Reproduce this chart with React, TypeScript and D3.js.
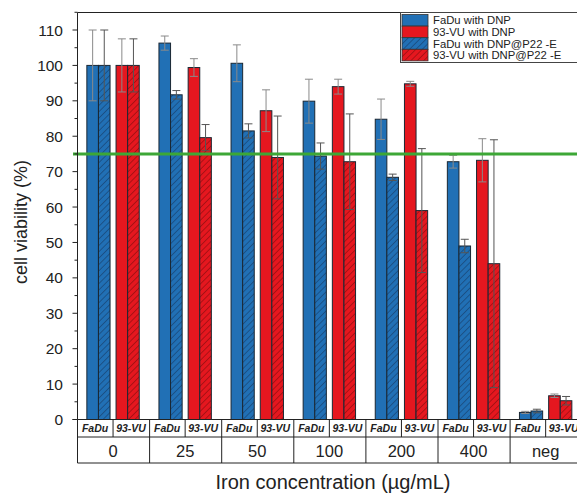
import React from "react";
import * as d3 from "d3";

const groups = ["0", "25", "50", "100", "200", "400", "neg"];
const cells = ["FaDu", "93-VU"];
const seriesNames = ["FaDu with DNP", "FaDu with DNP@P22 -E", "93-VU with DNP", "93-VU with DNP@P22 -E"];
const legendOrder = ["FaDu with DNP", "93-VU with DNP", "FaDu with DNP@P22 -E", "93-VU with DNP@P22 -E"];

const faduDnp = [100, 106.3, 100.6, 89.9, 84.8, 72.8, 2.0];
const faduDnpErr = [10, 2, 5.2, 6.2, 5.7, 1.8, 0.3];
const faduP22 = [100, 91.7, 81.5, 74.4, 68.4, 49.0, 2.4];
const faduP22Err = [10, 1.2, 2.0, 3.7, 0.9, 1.9, 0.5];
const vuDnp = [100, 99.4, 87.2, 94.0, 94.8, 73.2, 6.7];
const vuDnpErr = [7.5, 2.5, 5.9, 2.1, 0.7, 6.1, 0.5];
const vuP22 = [100, 79.6, 74.0, 72.8, 59.0, 44.0, 5.3];
const vuP22Err = [7.5, 3.7, 11.7, 13.5, 17.5, 35, 1.2];

const yTicks = [0, 10, 20, 30, 40, 50, 60, 70, 80, 90, 100, 110];
const yMinor = [5, 15, 25, 35, 45, 55, 65, 75, 85, 95, 105, 115];
const threshold = 75;

const BLUE = "#2170b5";
const RED = "#e5171f";
const FONT = "Liberation Sans, Arial, sans-serif";

export default function App() {
  const W = 577, H = 496;
  const y = d3.scaleLinear().domain([0, 110]).range([419.5, 30]);
  const x = d3.scaleBand<string>().domain(groups).range([77, 77 + 7 * 72.1]);
  const sub = d3.scaleBand<string>().domain(seriesNames).range([0, 46.4]);
  const gw = x.bandwidth();
  const bw = sub.bandwidth();

  const series = [
    { name: seriesNames[0], vals: faduDnp, errs: faduDnpErr, fill: BLUE, errColor: "#8a8a8a" },
    { name: seriesNames[1], vals: faduP22, errs: faduP22Err, fill: "url(#hb)", errColor: "#555" },
    { name: seriesNames[2], vals: vuDnp, errs: vuDnpErr, fill: RED, errColor: "#8a8a8a" },
    { name: seriesNames[3], vals: vuP22, errs: vuP22Err, fill: "url(#hr)", errColor: "#555" },
  ];
  const legendFill: Record<string, string> = {
    [seriesNames[0]]: BLUE,
    [seriesNames[1]]: "url(#hb)",
    [seriesNames[2]]: RED,
    [seriesNames[3]]: "url(#hr)",
  };

  const barX = (g: string, si: number) => (x(g) as number) + 9.85 + (sub(seriesNames[si]) as number) + (si >= 2 ? 6 : 0);

  const row1Top = 419.5, row1Bot = 437, row2Bot = 463;
  const x0 = 77.5;

  return (
    <svg width={W} height={H} style={{ position: "absolute", left: 0, top: 0, background: "#fff" }}>
      <defs>
        <pattern id="hb" patternUnits="userSpaceOnUse" width={4.5} height={4.5} patternTransform="rotate(45)">
          <rect width={4.5} height={4.5} fill={BLUE} />
          <line x1={0} y1={0} x2={0} y2={4.5} stroke="#163a63" strokeWidth={1.1} />
        </pattern>
        <pattern id="hr" patternUnits="userSpaceOnUse" width={4.5} height={4.5} patternTransform="rotate(45)">
          <rect width={4.5} height={4.5} fill={RED} />
          <line x1={0} y1={0} x2={0} y2={4.5} stroke="#7a0c0c" strokeWidth={1.1} />
        </pattern>
      </defs>

      {/* bars */}
      {series.map((s, si) =>
        groups.map((g, gi) => (
          <rect key={`b${si}-${gi}`} x={barX(g, si)} y={y(s.vals[gi])} width={bw} height={y(0) - y(s.vals[gi])}
            fill={s.fill} stroke="#1a2733" strokeWidth={1} />
        ))
      )}
      {/* error bars */}
      {series.map((s, si) =>
        groups.map((g, gi) => {
          const cx = barX(g, si) + bw / 2;
          const hi = y(s.vals[gi] + s.errs[gi]);
          const lo = y(s.vals[gi] - s.errs[gi]);
          return (
            <g key={`e${si}-${gi}`} stroke={s.errColor} strokeWidth={1}>
              <line x1={cx} x2={cx} y1={hi} y2={lo} />
              <line x1={cx - 4} x2={cx + 4} y1={hi} y2={hi} />
              <line x1={cx - 4} x2={cx + 4} y1={lo} y2={lo} />
            </g>
          );
        })
      )}

      {/* threshold line */}
      <line x1={73} x2={W} y1={y(threshold)} y2={y(threshold)} stroke="#3da736" strokeWidth={3} />

      {/* frame */}
      <line x1={x0} x2={x0} y1={12.5} y2={row1Top} stroke="#222" strokeWidth={1} />
      <line x1={x0} x2={W} y1={12.5} y2={12.5} stroke="#222" strokeWidth={1} />

      {/* y ticks */}
      {yTicks.map((t) => (
        <g key={`t${t}`}>
          <line x1={x0 - 5} x2={x0} y1={y(t)} y2={y(t)} stroke="#222" />
          <text x={63} y={y(t) + 5.5} textAnchor="end" fontSize={15.5} fontFamily={FONT} fill="#222">{t}</text>
        </g>
      ))}
      {yMinor.map((t) => (
        <line key={`m${t}`} x1={x0 - 3} x2={x0} y1={y(t)} y2={y(t)} stroke="#222" />
      ))}

      <text transform={`translate(27,222) rotate(-90)`} textAnchor="middle" fontSize={18} fontFamily={FONT} fill="#222">cell viability (%)</text>

      {/* category table */}
      <line x1={x0} x2={W} y1={row1Top} y2={row1Top} stroke="#222" />
      <line x1={x0} x2={W} y1={row1Bot} y2={row1Bot} stroke="#222" />
      <line x1={x0} x2={W} y1={row2Bot} y2={row2Bot} stroke="#222" />
      {groups.map((g, gi) => {
        const gx = x(g) as number;
        return (
          <g key={`c${gi}`}>
            <line x1={gx + 0.5} x2={gx + 0.5} y1={row1Top} y2={row2Bot} stroke="#222" />
            <line x1={gx + gw / 2} x2={gx + gw / 2} y1={row1Top} y2={row1Bot} stroke="#222" />
            {cells.map((c, ci) => (
              <text key={c} x={gx + gw / 4 + (ci * gw) / 2} y={431.5} textAnchor="middle" fontSize={10.5}
                fontStyle="italic" fontWeight="bold" fontFamily={FONT} fill="#222">{c}</text>
            ))}
            <text x={gx + gw / 2} y={456.5} textAnchor="middle" fontSize={16.5} fontFamily={FONT} fill="#222">{g}</text>
          </g>
        );
      })}
      <line x1={x0 - 5} x2={x0} y1={row1Top} y2={row1Top} stroke="#222" />

      <text x={333} y={489} textAnchor="middle" fontSize={20} fontFamily={FONT} fill="#222">Iron concentration (µg/mL)</text>

      {/* legend */}
      <rect x={400.5} y={12.5} width={200} height={50} fill="#fff" stroke="#444" strokeWidth={1} />
      {legendOrder.map((name, i) => (
        <g key={name}>
          <rect x={402} y={14.5 + i * 11.6} width={26} height={11.6} fill={legendFill[name]} stroke="#333" strokeWidth={0.8} />
          <text x={433} y={24.4 + i * 11.6} fontSize={11.3} fontFamily={FONT} fill="#222">{name}</text>
        </g>
      ))}
    </svg>
  );
}
